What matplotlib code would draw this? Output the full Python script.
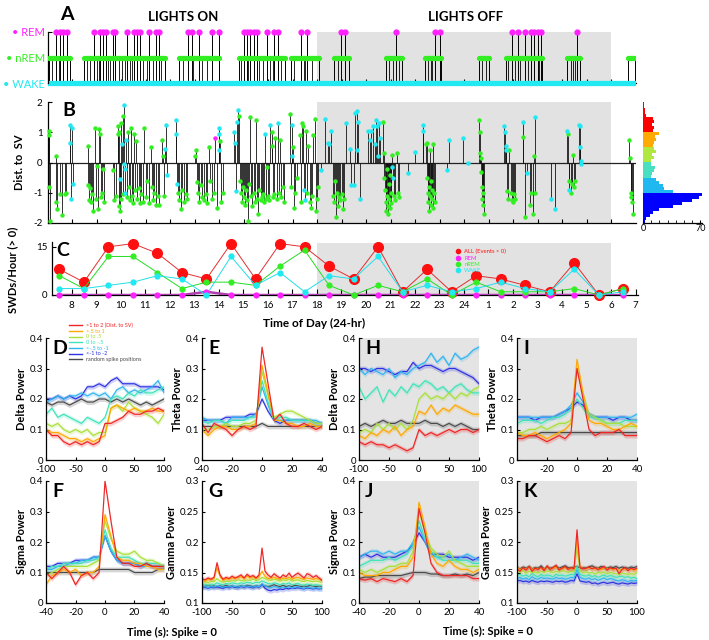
import numpy as np
import matplotlib.pyplot as plt
from matplotlib.lines import Line2D

plt.rcParams['font.family'] = ['Lato', 'DejaVu Sans']
plt.rcParams['axes.linewidth'] = 0.9
plt.rcParams['xtick.direction'] = 'in'
plt.rcParams['ytick.direction'] = 'in'
plt.rcParams['xtick.labelsize'] = 7
plt.rcParams['ytick.labelsize'] = 7
plt.rcParams['xtick.major.size'] = 3
plt.rcParams['ytick.major.size'] = 3

# ---------------- data: A (sleep state over time) ----------------
a_nrem_start = [7.05, 8.5, 12.35, 14.8, 16.95, 18.7, 20.8, 22.4, 24.6, 25.7, 28.2, 30.7]
a_nrem_end = [7.9, 11.8, 14.0, 16.7, 18.1, 19.3, 21.45, 23.05, 25.0, 27.2, 28.75, 30.98]
a_rem = [7.36, 7.5, 7.64, 7.8, 8.88, 9.15, 9.28, 9.39, 9.66, 9.77, 10.23, 10.54, 10.65,
         10.77, 11.15, 11.42, 11.55, 12.74, 12.88, 13.18, 13.72, 14.0, 15.0, 15.14, 15.27,
         15.41, 15.54, 15.97, 16.26, 16.42, 17.34, 17.61, 18.99, 19.15, 21.24, 22.83, 23.0,
         25.95, 26.22, 26.49, 26.73, 26.87, 27.0, 27.14, 28.62]
a_brief_wake = [7.2, 7.45, 8.6, 8.75, 9.0, 9.1, 9.45, 9.55, 9.9, 10.05, 10.15, 10.35, 10.45,
                10.9, 11.05, 11.3, 11.65, 12.55, 12.95, 13.3, 13.5, 14.9, 15.2, 15.65, 15.8,
                16.1, 16.2, 16.55, 17.05, 17.45, 17.5, 17.8, 18.85, 20.95, 21.1, 21.35, 22.55,
                22.65, 22.7, 24.75, 24.9, 25.8, 26.1, 26.3, 26.6, 27.05, 28.35, 28.45, 28.55]

# ---------------- data: B (distance to SV per event) ----------------
b_nrem_t = [7.05, 7.07, 7.08, 7.1, 7.34, 7.36, 7.4, 7.5, 7.6, 7.7, 7.77,
            8.65, 8.67, 8.7, 8.74, 8.78, 8.82, 8.86, 8.92, 8.96, 9.01, 9.05, 9.12, 9.15, 9.18, 9.22, 9.28, 9.32,
            9.66, 9.7, 9.8, 9.86, 9.88, 9.9, 9.93, 9.97, 10.0, 10.02, 10.07, 10.1, 10.23, 10.27, 10.31, 10.36, 10.41, 10.45, 10.5,
            10.54, 10.58, 10.61, 10.65, 10.72, 10.77, 10.81, 10.88, 10.95, 11.0, 11.08, 11.15, 11.22, 11.26, 11.3, 11.35, 11.42, 11.49, 11.55, 11.69, 11.72, 11.75,
            12.34, 12.38, 12.43, 12.5, 12.57, 12.65, 12.7,
            13.04, 13.08, 13.1, 13.14, 13.18, 13.25, 13.31, 13.38, 13.45, 13.52, 13.58, 13.62, 13.72, 13.8, 13.9, 14.06, 14.1, 14.15,
            14.8, 14.84, 14.88, 14.93, 14.97, 15.02, 15.07, 15.1, 15.14, 15.2, 15.24, 15.27, 15.31, 15.35, 15.41, 15.45, 15.5, 15.54, 15.6, 15.65,
            15.7, 15.74, 15.8, 15.85, 15.92, 15.97, 16.0, 16.05, 16.15, 16.18, 16.22, 16.26, 16.3, 16.35, 16.45, 16.5, 16.55, 16.6, 16.65,
            16.91, 16.93, 17.02, 17.05, 17.09, 17.2, 17.3, 17.34, 17.4, 17.43, 17.57, 17.6, 17.65, 17.7, 17.75, 17.8, 17.84, 17.91, 17.95, 18.0, 18.04,
            18.65, 18.7, 18.74, 18.78, 18.82, 18.86, 18.9, 18.95, 19.0, 19.05, 19.1,
            20.7, 20.72, 20.75, 20.78, 20.8, 20.82, 20.84, 20.86, 20.88, 20.9, 20.92, 20.94, 20.96, 20.98, 21.0, 21.02, 21.05, 21.15, 21.2, 21.25, 21.3, 21.35,
            22.45, 22.47, 22.5, 22.52, 22.54, 22.56, 22.58, 22.6, 22.62, 22.64, 22.66, 22.68, 22.7, 22.72, 22.75, 22.78, 22.82,
            24.62, 24.64, 24.66, 24.68, 24.7, 24.72, 24.74, 24.76, 24.78, 24.8,
            25.75, 25.8, 25.85, 25.9, 25.95, 26.0, 26.05, 26.1, 26.42, 26.5, 26.7, 26.75, 26.8, 26.85, 26.88,
            28.24, 28.27, 28.35, 28.4, 28.45, 28.5, 28.55,
            30.75, 30.78, 30.8, 30.83, 30.86, 30.88]
b_nrem_d = [1.05, 0.9, -0.8, -1.95, 0.2, -1.3, -1.55, -1.05, -1.75, -1.05, -1.0,
            0.55, -0.75, -1.25, -0.85, -1.3, -1.05, -1.6, 1.15, -1.2, -0.1, -1.55, 1.1, 0.95, -1.15, -1.0, -0.2, -1.3,
            -0.25, -1.25, -1.1, 0.95, 1.2, -1.45, 1.0, -1.6, 1.3, -1.2, -1.05, 1.55, -1.15, 1.0, -0.8, -1.25, 1.15, -1.1, -1.35,
            0.95, -0.9, 0.7, -1.2, -0.85, -1.35, -1.05, -1.3, 1.15, -1.15, -0.6, -1.35, 0.5, -0.8, -1.25, -1.0, -1.4, -1.1, -1.4, 0.75, 0.2, -1.1,
            -1.0, -1.25, -1.55, -0.9, -1.3, -1.05, -1.2,
            0.2, 0.4, -0.65, -1.0, -1.3, -0.75, -1.15, -1.25, -1.05, -1.35, 0.5, -0.6, -1.2, -1.0, -1.5, 0.7, -1.3, -1.0,
            1.55, -0.6, -1.0, -1.3, -0.8, -1.15, -1.4, -0.9, -1.25, -1.95, -0.7, 1.5, -1.1, -1.45, -1.0, -1.3, 1.4, -1.2, -1.7, -0.9,
            -1.25, -1.15, -1.05, -1.3, -1.2, -0.15, -1.1, -1.25, 1.0, 0.55, -1.15, -1.05, 0.8, -1.2, -1.0, 0.75, -1.15, -0.8, -1.3,
            1.6, -0.8, 0.5, -1.5, -1.0, -0.5, 0.9, -1.3, 1.3, 1.2, 1.05, -1.0, 0.55, -1.3, -1.5, -1.1, 0.9, 1.45, -1.6, -1.2, -0.8,
            -1.1, -1.3, -0.6, -1.8, -1.0, -1.45, -1.15, -1.25, -1.05, -1.55, -1.2,
            1.35, 0.3, -0.5, -0.9, -1.3, -1.6, -1.1, -0.2, -1.45, -1.7, -0.7, -1.2, -1.5, -0.4, -1.0, -1.35, 0.25, -1.1, -1.25, 0.3, -1.0, -1.15,
            0.6, 0.65, -0.5, -1.0, -1.3, -0.8, -1.6, 0.4, -1.1, -0.6, -1.4, -0.9, -1.2, -1.5, 0.6, -1.0, -1.3,
            1.4, 1.0, 0.3, 0.15, -0.3, -0.8, -1.2, -1.0, -1.4, -1.7,
            -0.95, -1.2, 0.4, -1.0, -1.25, -1.3, -1.05, -1.2, 0.85, -1.8, -1.4, -1.0, -1.7, 0.2, -1.0,
            0.95, -0.6, -1.0, -0.7, 0.25, -0.8, -0.6,
            0.75, 0.15, -1.0, -1.15, -1.3, -1.7]
b_wake_t = [7.9, 7.92, 7.95, 8.02, 8.05, 9.95, 10.05, 10.12, 10.14, 10.16, 10.18, 10.2,
            11.8, 11.85, 11.89, 12.23, 12.26, 12.3, 13.99, 14.0, 14.02,
            14.62, 14.65, 14.68, 14.73, 14.76, 15.88, 16.1, 16.4, 16.96, 16.99, 17.47, 17.5,
            18.18, 18.31, 18.45, 18.51, 18.58, 19.19, 19.35, 19.4, 19.49, 19.56, 19.62, 19.65, 19.69, 19.76,
            20.1, 20.15, 20.2, 20.3, 20.35, 20.4, 20.45, 20.5, 20.55, 20.58,
            21.08, 21.12, 21.71, 22.02, 22.32, 22.34, 23.29, 23.4, 23.96, 24.18,
            25.65, 25.67, 25.7, 25.72, 26.4, 26.58, 26.9, 27.57, 27.73,
            28.22, 28.3, 28.7, 28.72, 28.74, 28.76, 28.78]
b_wake_d = [1.25, 0.65, -1.2, 1.15, -0.7, -0.55, 0.6, 1.9, -0.05, -0.2, -1.0, 0.75,
            0.45, 1.25, -0.4, 0.95, 1.4, -0.7, 1.15, 0.95, 0.4,
            1.0, 0.65, -0.95, 1.35, 1.75, 0.95, 1.25, 1.3, 1.25, 0.2, -0.9, -1.25,
            -0.25, 1.45, 0.65, 0.6, 1.05, 1.3, 0.45, -0.75, -0.75, 1.65, 1.7, 0.4, 1.35, -1.2,
            1.05, 0.75, 1.05, 1.2, 0.6, 1.4, 1.2, 0.2, 1.3, 0.8,
            -0.15, -0.5, -0.35, 0.35, 1.25, 1.05, -0.25, 0.75, 0.8, 0.0,
            1.2, 1.0, 0.55, 0.4, 1.35, -0.35, 1.5, -1.2, -1.55,
            1.05, -0.9, 1.25, 1.2, 0.5, 0.05, -0.05]
b_rem_t = [13.85]
b_rem_d = [0.8]

# histogram of distances, bins of 0.1 from -2 (bottom) to 2 (top)
hist_counts = [2, 4, 8, 12, 20, 36, 48, 60, 68, 72,
               36, 26, 24, 20, 16,
               10, 11, 13, 15, 10,
               10, 13, 11, 16, 14,
               12, 14, 16, 15, 20,
               12, 14, 11, 14, 12, 4, 2, 2, 1, 1]

# ---------------- data: C (events per hour) ----------------
c_labels = ['8', '9', '10', '11', '12', '13', '14', '15', '16', '17', '18', '19', '20',
            '21', '22', '23', '24', '1', '2', '3', '4', '5', '6', '7']
c_all = [8, 4, 15, 16, 13, 7, 5, 16, 5, 16, 15, 9, 5, 15, 1, 8, 1, 6, 5, 3, 1, 10, 0, 2]
c_nrem = [6, 2, 12, 12, 7, 2, 4, 4, 3, 9, 14, 3, 0, 3, 1, 5, 0, 4, 1, 1, 1, 2, 0, 2]
c_wake = [2, 2, 3, 4, 6, 5, 0, 12, 3, 7, 1, 6, 5, 12, 1, 3, 1, 2, 4, 2, 1, 8, 0, 1]
c_rem = [0, 0, 0, 0, 0, 0, 1, 0, 0, 0, 0, 0, 0, 0, 0, 0, 0, 0, 0, 0, 0, 0, 0, 0]

# ---------------- data: D-K (power around spikes) ----------------
# series order: >1 to 2, >.5 to 1, 0 to .5, 0 to -.5, <-.5 to -1, <-1 to -2, random
series_names = ['>1 to 2 (Dist. to SV)', '>.5 to 1', '0 to .5', '0 to -.5',
                '<-.5 to -1', '<-1 to -2', 'random spike positions']
series_colors = ['#f02424', '#ffa800', '#a8e03a', '#3ee3b8', '#30b4f0', '#2e32e0', '#4a4a4a']

delta_on = [
    [0.10, 0.08, 0.08, 0.06, 0.05, 0.06, 0.05, 0.06, 0.05, 0.06, 0.12, 0.12, 0.13, 0.14, 0.16, 0.15, 0.15, 0.16, 0.16, 0.17, 0.16],
    [0.10, 0.09, 0.09, 0.08, 0.07, 0.07, 0.06, 0.07, 0.06, 0.07, 0.08, 0.17, 0.18, 0.17, 0.16, 0.17, 0.16, 0.16, 0.17, 0.16, 0.16],
    [0.12, 0.11, 0.12, 0.10, 0.09, 0.10, 0.09, 0.10, 0.08, 0.09, 0.09, 0.17, 0.18, 0.16, 0.19, 0.17, 0.16, 0.15, 0.14, 0.12, 0.15],
    [0.15, 0.17, 0.14, 0.15, 0.14, 0.13, 0.12, 0.14, 0.13, 0.12, 0.14, 0.20, 0.21, 0.20, 0.22, 0.21, 0.23, 0.22, 0.22, 0.23, 0.24],
    [0.19, 0.20, 0.21, 0.20, 0.21, 0.21, 0.22, 0.21, 0.22, 0.21, 0.22, 0.20, 0.23, 0.24, 0.22, 0.23, 0.22, 0.23, 0.24, 0.26, 0.22],
    [0.20, 0.20, 0.21, 0.20, 0.21, 0.20, 0.21, 0.24, 0.24, 0.25, 0.24, 0.26, 0.27, 0.25, 0.25, 0.25, 0.24, 0.24, 0.24, 0.24, 0.23],
    [0.19, 0.18, 0.19, 0.19, 0.18, 0.19, 0.20, 0.19, 0.19, 0.20, 0.20, 0.19, 0.20, 0.19, 0.20, 0.19, 0.18, 0.19, 0.18, 0.19, 0.20],
]
theta_on = [
    [0.12, 0.09, 0.12, 0.11, 0.10, 0.08, 0.10, 0.11, 0.10, 0.11, 0.37, 0.25, 0.13, 0.15, 0.12, 0.11, 0.11, 0.12, 0.11, 0.10, 0.11],
    [0.10, 0.08, 0.10, 0.11, 0.11, 0.10, 0.10, 0.11, 0.11, 0.12, 0.31, 0.22, 0.13, 0.13, 0.12, 0.12, 0.11, 0.11, 0.12, 0.11, 0.11],
    [0.10, 0.10, 0.11, 0.11, 0.12, 0.11, 0.11, 0.12, 0.12, 0.13, 0.29, 0.21, 0.14, 0.15, 0.16, 0.16, 0.15, 0.14, 0.13, 0.12, 0.12],
    [0.13, 0.12, 0.13, 0.13, 0.12, 0.13, 0.13, 0.13, 0.14, 0.14, 0.26, 0.19, 0.13, 0.14, 0.14, 0.13, 0.13, 0.13, 0.13, 0.12, 0.12],
    [0.14, 0.13, 0.13, 0.13, 0.12, 0.14, 0.14, 0.14, 0.14, 0.15, 0.24, 0.18, 0.13, 0.13, 0.13, 0.13, 0.13, 0.13, 0.13, 0.13, 0.12],
    [0.13, 0.13, 0.13, 0.13, 0.14, 0.14, 0.14, 0.14, 0.15, 0.15, 0.20, 0.16, 0.13, 0.12, 0.13, 0.13, 0.13, 0.13, 0.13, 0.12, 0.12],
    [0.11, 0.11, 0.11, 0.11, 0.11, 0.11, 0.11, 0.11, 0.11, 0.11, 0.12, 0.11, 0.11, 0.11, 0.11, 0.11, 0.11, 0.11, 0.11, 0.11, 0.11],
]
delta_off = [
    [0.06, 0.05, 0.06, 0.05, 0.05, 0.04, 0.05, 0.04, 0.03, 0.04, 0.10, 0.08, 0.09, 0.08, 0.09, 0.10, 0.09, 0.10, 0.10, 0.09, 0.10],
    [0.08, 0.07, 0.09, 0.08, 0.10, 0.09, 0.11, 0.08, 0.10, 0.11, 0.16, 0.15, 0.18, 0.15, 0.17, 0.16, 0.18, 0.17, 0.16, 0.15, 0.15],
    [0.09, 0.10, 0.09, 0.12, 0.10, 0.12, 0.10, 0.12, 0.10, 0.13, 0.20, 0.22, 0.20, 0.21, 0.20, 0.22, 0.20, 0.22, 0.21, 0.23, 0.24],
    [0.24, 0.20, 0.22, 0.24, 0.19, 0.23, 0.21, 0.24, 0.22, 0.25, 0.24, 0.26, 0.25, 0.23, 0.24, 0.22, 0.24, 0.25, 0.23, 0.22, 0.22],
    [0.30, 0.28, 0.30, 0.29, 0.28, 0.30, 0.27, 0.29, 0.28, 0.30, 0.31, 0.32, 0.35, 0.32, 0.34, 0.31, 0.35, 0.33, 0.34, 0.36, 0.37],
    [0.30, 0.30, 0.29, 0.30, 0.30, 0.29, 0.28, 0.29, 0.29, 0.32, 0.30, 0.31, 0.31, 0.30, 0.29, 0.30, 0.30, 0.29, 0.28, 0.27, 0.25],
    [0.11, 0.12, 0.11, 0.12, 0.13, 0.12, 0.12, 0.13, 0.12, 0.12, 0.12, 0.13, 0.12, 0.12, 0.11, 0.12, 0.11, 0.12, 0.11, 0.10, 0.10],
]
theta_off = [
    [0.07, 0.07, 0.08, 0.08, 0.07, 0.06, 0.07, 0.08, 0.07, 0.09, 0.30, 0.20, 0.10, 0.08, 0.09, 0.09, 0.09, 0.10, 0.08, 0.08, 0.08],
    [0.09, 0.08, 0.08, 0.09, 0.08, 0.07, 0.08, 0.09, 0.10, 0.12, 0.33, 0.22, 0.13, 0.12, 0.12, 0.11, 0.10, 0.10, 0.11, 0.12, 0.11],
    [0.09, 0.09, 0.10, 0.10, 0.11, 0.10, 0.11, 0.12, 0.12, 0.13, 0.30, 0.22, 0.15, 0.14, 0.13, 0.12, 0.12, 0.12, 0.11, 0.11, 0.11],
    [0.12, 0.13, 0.13, 0.13, 0.12, 0.13, 0.14, 0.14, 0.15, 0.17, 0.20, 0.17, 0.14, 0.14, 0.13, 0.12, 0.12, 0.12, 0.13, 0.13, 0.13],
    [0.14, 0.14, 0.14, 0.14, 0.14, 0.14, 0.14, 0.15, 0.16, 0.18, 0.22, 0.19, 0.15, 0.14, 0.14, 0.14, 0.14, 0.14, 0.14, 0.14, 0.15],
    [0.14, 0.14, 0.14, 0.13, 0.14, 0.14, 0.14, 0.15, 0.16, 0.17, 0.19, 0.18, 0.15, 0.14, 0.14, 0.14, 0.13, 0.14, 0.14, 0.13, 0.13],
    [0.08, 0.08, 0.08, 0.08, 0.09, 0.09, 0.09, 0.09, 0.09, 0.09, 0.09, 0.09, 0.09, 0.09, 0.09, 0.09, 0.09, 0.09, 0.09, 0.09, 0.09],
]
sigma_on = [
    [0.10, 0.08, 0.10, 0.12, 0.10, 0.06, 0.09, 0.10, 0.08, 0.10, 0.40, 0.27, 0.15, 0.13, 0.13, 0.12, 0.12, 0.13, 0.12, 0.12, 0.12],
    [0.06, 0.09, 0.10, 0.11, 0.10, 0.11, 0.09, 0.10, 0.10, 0.12, 0.29, 0.22, 0.15, 0.14, 0.14, 0.13, 0.13, 0.12, 0.12, 0.11, 0.11],
    [0.09, 0.10, 0.11, 0.12, 0.12, 0.12, 0.12, 0.12, 0.13, 0.14, 0.27, 0.21, 0.17, 0.16, 0.16, 0.17, 0.15, 0.14, 0.14, 0.13, 0.12],
    [0.11, 0.12, 0.12, 0.13, 0.13, 0.13, 0.13, 0.14, 0.14, 0.15, 0.24, 0.18, 0.15, 0.15, 0.15, 0.14, 0.13, 0.13, 0.13, 0.13, 0.12],
    [0.11, 0.11, 0.12, 0.12, 0.13, 0.13, 0.14, 0.14, 0.15, 0.15, 0.22, 0.17, 0.14, 0.13, 0.13, 0.13, 0.12, 0.12, 0.12, 0.12, 0.12],
    [0.12, 0.12, 0.13, 0.13, 0.13, 0.14, 0.14, 0.14, 0.15, 0.15, 0.22, 0.17, 0.14, 0.13, 0.13, 0.13, 0.12, 0.13, 0.12, 0.12, 0.12],
    [0.10, 0.10, 0.10, 0.10, 0.10, 0.10, 0.10, 0.10, 0.10, 0.11, 0.11, 0.11, 0.11, 0.11, 0.11, 0.10, 0.10, 0.10, 0.10, 0.11, 0.11],
]
gamma_on = [
    [0.140, 0.138, 0.141, 0.139, 0.142, 0.166, 0.146, 0.139, 0.142, 0.140, 0.144, 0.141, 0.143, 0.146, 0.141, 0.147, 0.143, 0.145, 0.141, 0.146, 0.190,
     0.152, 0.146, 0.142, 0.148, 0.144, 0.141, 0.146, 0.143, 0.149, 0.142, 0.146, 0.149, 0.145, 0.141, 0.148, 0.146, 0.142, 0.145, 0.141, 0.137],
    [0.137, 0.136, 0.139, 0.138, 0.140, 0.158, 0.143, 0.137, 0.140, 0.139, 0.141, 0.140, 0.142, 0.143, 0.140, 0.144, 0.141, 0.143, 0.140, 0.143, 0.152,
     0.144, 0.140, 0.141, 0.142, 0.140, 0.139, 0.141, 0.140, 0.142, 0.139, 0.141, 0.142, 0.140, 0.139, 0.141, 0.140, 0.139, 0.140, 0.139, 0.138],
    [0.134, 0.135, 0.133, 0.136, 0.135, 0.140, 0.136, 0.134, 0.136, 0.135, 0.137, 0.136, 0.138, 0.137, 0.136, 0.138, 0.137, 0.139, 0.137, 0.138, 0.142,
     0.140, 0.138, 0.137, 0.139, 0.138, 0.136, 0.138, 0.137, 0.139, 0.136, 0.137, 0.138, 0.136, 0.135, 0.137, 0.136, 0.135, 0.136, 0.135, 0.134],
    [0.130, 0.131, 0.129, 0.131, 0.130, 0.133, 0.131, 0.130, 0.132, 0.131, 0.133, 0.132, 0.131, 0.133, 0.132, 0.134, 0.133, 0.132, 0.134, 0.133, 0.136,
     0.134, 0.132, 0.131, 0.133, 0.132, 0.130, 0.132, 0.131, 0.133, 0.130, 0.131, 0.132, 0.130, 0.129, 0.131, 0.130, 0.129, 0.130, 0.129, 0.128],
    [0.126, 0.127, 0.125, 0.127, 0.126, 0.128, 0.127, 0.126, 0.127, 0.126, 0.128, 0.127, 0.126, 0.128, 0.127, 0.128, 0.127, 0.126, 0.128, 0.127, 0.130,
     0.128, 0.126, 0.125, 0.127, 0.126, 0.125, 0.126, 0.125, 0.127, 0.125, 0.126, 0.127, 0.125, 0.124, 0.126, 0.125, 0.124, 0.125, 0.124, 0.123],
    [0.125, 0.126, 0.124, 0.126, 0.125, 0.127, 0.125, 0.124, 0.126, 0.125, 0.127, 0.126, 0.125, 0.127, 0.126, 0.127, 0.126, 0.125, 0.127, 0.126, 0.131,
     0.124, 0.121, 0.120, 0.122, 0.121, 0.123, 0.122, 0.124, 0.123, 0.125, 0.124, 0.125, 0.124, 0.123, 0.125, 0.124, 0.123, 0.124, 0.123, 0.124],
    [0.128, 0.127, 0.129, 0.127, 0.128, 0.126, 0.128, 0.127, 0.129, 0.127, 0.128, 0.126, 0.127, 0.128, 0.127, 0.129, 0.128, 0.127, 0.128, 0.127, 0.129,
     0.128, 0.127, 0.128, 0.130, 0.128, 0.127, 0.129, 0.127, 0.128, 0.127, 0.129, 0.128, 0.127, 0.128, 0.127, 0.129, 0.128, 0.127, 0.128, 0.127],
]
sigma_off = [
    [0.08, 0.075, 0.08, 0.07, 0.08, 0.075, 0.07, 0.08, 0.07, 0.09, 0.31, 0.23, 0.13, 0.10, 0.09, 0.09, 0.09, 0.09, 0.09, 0.08, 0.08],
    [0.10, 0.09, 0.09, 0.09, 0.10, 0.10, 0.11, 0.12, 0.12, 0.15, 0.33, 0.25, 0.16, 0.13, 0.12, 0.14, 0.12, 0.11, 0.11, 0.10, 0.11],
    [0.11, 0.10, 0.11, 0.10, 0.11, 0.12, 0.12, 0.13, 0.13, 0.17, 0.30, 0.23, 0.18, 0.16, 0.15, 0.17, 0.14, 0.13, 0.12, 0.12, 0.12],
    [0.12, 0.13, 0.14, 0.14, 0.14, 0.15, 0.14, 0.15, 0.16, 0.19, 0.27, 0.21, 0.17, 0.15, 0.14, 0.14, 0.14, 0.14, 0.14, 0.13, 0.13],
    [0.15, 0.16, 0.17, 0.17, 0.16, 0.17, 0.16, 0.17, 0.17, 0.20, 0.25, 0.20, 0.16, 0.15, 0.15, 0.16, 0.14, 0.15, 0.16, 0.15, 0.14],
    [0.15, 0.16, 0.15, 0.16, 0.15, 0.15, 0.15, 0.16, 0.17, 0.19, 0.23, 0.20, 0.16, 0.16, 0.16, 0.15, 0.15, 0.15, 0.15, 0.14, 0.15],
    [0.08, 0.085, 0.085, 0.09, 0.09, 0.09, 0.09, 0.09, 0.095, 0.10, 0.10, 0.10, 0.095, 0.095, 0.09, 0.09, 0.095, 0.09, 0.095, 0.09, 0.10],
]
gamma_off = [
    [0.156, 0.152, 0.158, 0.154, 0.160, 0.152, 0.157, 0.155, 0.159, 0.153, 0.161, 0.155, 0.158, 0.162, 0.154, 0.157, 0.160, 0.155, 0.158, 0.156, 0.220,
     0.158, 0.156, 0.157, 0.159, 0.156, 0.158, 0.155, 0.157, 0.160, 0.154, 0.158, 0.156, 0.157, 0.148, 0.155, 0.158, 0.153, 0.157, 0.155, 0.157],
    [0.158, 0.155, 0.157, 0.156, 0.159, 0.155, 0.157, 0.156, 0.158, 0.155, 0.160, 0.156, 0.157, 0.159, 0.155, 0.157, 0.158, 0.156, 0.157, 0.156, 0.205,
     0.158, 0.157, 0.156, 0.158, 0.157, 0.156, 0.157, 0.155, 0.158, 0.156, 0.157, 0.155, 0.156, 0.154, 0.155, 0.156, 0.154, 0.155, 0.154, 0.155],
    [0.152, 0.150, 0.153, 0.149, 0.152, 0.150, 0.151, 0.149, 0.152, 0.150, 0.153, 0.151, 0.150, 0.152, 0.151, 0.153, 0.152, 0.150, 0.152, 0.151, 0.190,
     0.152, 0.150, 0.151, 0.149, 0.150, 0.148, 0.150, 0.149, 0.151, 0.148, 0.150, 0.149, 0.148, 0.147, 0.149, 0.148, 0.147, 0.148, 0.147, 0.150],
    [0.145, 0.147, 0.144, 0.146, 0.143, 0.148, 0.145, 0.143, 0.147, 0.144, 0.146, 0.145, 0.143, 0.147, 0.145, 0.146, 0.144, 0.145, 0.147, 0.146, 0.160,
     0.147, 0.145, 0.144, 0.146, 0.143, 0.145, 0.142, 0.144, 0.146, 0.143, 0.145, 0.144, 0.142, 0.143, 0.144, 0.142, 0.143, 0.141, 0.142, 0.140],
    [0.140, 0.142, 0.139, 0.141, 0.138, 0.143, 0.140, 0.139, 0.142, 0.140, 0.141, 0.140, 0.139, 0.142, 0.140, 0.141, 0.139, 0.140, 0.142, 0.141, 0.155,
     0.142, 0.140, 0.139, 0.141, 0.138, 0.140, 0.137, 0.139, 0.141, 0.138, 0.140, 0.139, 0.137, 0.136, 0.138, 0.137, 0.135, 0.137, 0.136, 0.137],
    [0.136, 0.137, 0.135, 0.136, 0.134, 0.137, 0.135, 0.134, 0.136, 0.135, 0.136, 0.135, 0.134, 0.136, 0.135, 0.136, 0.134, 0.135, 0.137, 0.136, 0.148,
     0.136, 0.135, 0.134, 0.135, 0.132, 0.133, 0.131, 0.133, 0.134, 0.132, 0.133, 0.134, 0.132, 0.131, 0.133, 0.132, 0.131, 0.133, 0.132, 0.133],
    [0.158, 0.156, 0.159, 0.157, 0.160, 0.156, 0.158, 0.157, 0.161, 0.156, 0.159, 0.157, 0.158, 0.160, 0.157, 0.159, 0.161, 0.158, 0.157, 0.159, 0.160,
     0.157, 0.158, 0.157, 0.159, 0.161, 0.158, 0.157, 0.160, 0.158, 0.157, 0.159, 0.158, 0.160, 0.157, 0.159, 0.158, 0.157, 0.159, 0.158, 0.160],
]

# ---------------- figure ----------------
W, H = 709, 640
fig = plt.figure(figsize=(W / 100, H / 100), dpi=100)

C_WAKE = '#22e8f2'
C_NREM = '#33ee22'
C_REM = '#ff22ff'
SHADE = '#e2e2e2'


def box(x0, y0, x1, y1):
    return [x0 / W, 1 - y1 / H, (x1 - x0) / W, (y1 - y0) / H]


def clean(ax):
    ax.spines['top'].set_visible(False)
    ax.spines['right'].set_visible(False)


hours = list(range(8, 32))

# ---- A ----
axA = fig.add_axes(box(47.5, 28, 635.5, 87))
axA.set_xlim(7, 31)
axA.set_ylim(-0.15, 2.15)
axA.fill_between([18, 30], 0, 2, color=SHADE, lw=0, zorder=0)
axA.vlines(a_nrem_start + a_nrem_end, 0, 1, color='k', lw=0.7, zorder=1)
axA.vlines(a_brief_wake, 0, 1, color='k', lw=0.6, zorder=1)
axA.vlines(a_rem, 0, 2, color='k', lw=0.7, zorder=1)
axA.plot([7.0, 30.95], [0, 0], color=C_WAKE, lw=3.8, zorder=2)
for s, e in zip(a_nrem_start, a_nrem_end):
    axA.plot([s, e], [1, 1], color=C_NREM, lw=3.8, solid_capstyle='round', zorder=3)
axA.plot(a_rem, [2] * len(a_rem), 'o', color=C_REM, ms=3.5, zorder=4)
clean(axA)
axA.spines['left'].set_bounds(0, 2)
axA.spines['bottom'].set_position(('data', 0))
axA.spines['bottom'].set_zorder(1)
axA.set_xticks(hours[:-1])
axA.set_xticklabels([])
axA.set_yticks([0, 1, 2])
axA.set_yticklabels(['• WAKE', '• nREM', '• REM'], fontsize=8)
for lab, col in zip(axA.get_yticklabels(), [C_WAKE, C_NREM, C_REM]):
    lab.set_color(col)
axA.tick_params(axis='y', length=3, pad=2)
axA.tick_params(axis='x', length=3)
axA.patch.set_alpha(0)

# ---- B ----
axB = fig.add_axes(box(47.5, 102, 635.5, 223))
axB.set_xlim(7, 31)
axB.set_ylim(-2, 2)
axB.fill_between([18, 30], -2, 2, color=SHADE, lw=0, zorder=0)
axB.axhline(0, color='#222222', lw=0.9, zorder=1)
for tt, dd, col in [(b_nrem_t, b_nrem_d, C_NREM), (b_wake_t, b_wake_d, C_WAKE), (b_rem_t, b_rem_d, C_REM)]:
    axB.vlines(tt, 0, dd, color='#111111', lw=0.6, zorder=2)
for tt, dd, col in [(b_nrem_t, b_nrem_d, C_NREM), (b_wake_t, b_wake_d, C_WAKE), (b_rem_t, b_rem_d, C_REM)]:
    axB.plot(tt, dd, 'o', color=col, ms=3.2, mew=0, zorder=3, clip_on=False)
clean(axB)
axB.set_xticks(hours[:-1])
axB.set_xticklabels([])
axB.set_yticks([-2, -1, 0, 1, 2])
axB.set_yticklabels(['-2', '-1', '0', '1', '2'])
axB.set_ylabel('Dist. to  SV', fontsize=8, fontweight='bold', labelpad=6)
axB.text(0.025, 1.0, 'B', transform=axB.transAxes, fontsize=14, fontweight='bold', va='top', ha='left')

# distance histogram
axH = fig.add_axes(box(643, 102, 702, 223))
centers = np.arange(-1.95, 2.0, 0.1)
bin_cols = []
for c in centers:
    if c > 1:
        bin_cols.append('#ff0000')
    elif c > 0.5:
        bin_cols.append('#ffaa00')
    elif c > 0:
        bin_cols.append('#b0e840')
    elif c > -0.5:
        bin_cols.append('#48e0c0')
    elif c > -1:
        bin_cols.append('#20b8f0')
    else:
        bin_cols.append('#0000ff')
axH.barh(centers[:len(hist_counts)], hist_counts, height=0.1, color=bin_cols, lw=0)
axH.set_ylim(-2, 2)
axH.set_xlim(0, 72)
for sp in ['top', 'right', 'left']:
    axH.spines[sp].set_visible(False)
axH.set_yticks([])
axH.set_xticks([0, 70])
axH.set_xticklabels(['0', '70'], fontsize=6.5)
axH.set_xticks(range(10, 70, 10), minor=True)
axH.tick_params(axis='x', which='both', length=2.5, pad=1)

# ---- C ----
axC = fig.add_axes(box(52, 242, 638, 295))
axC.set_xlim(7.2, 31.1)
axC.set_ylim(0, 16.5)
axC.fill_between([18, 30], 0, 16.3, color=SHADE, lw=0, zorder=0)
pts = np.array(hours) - 0.5
axC.plot(pts, c_all, '-', color='#e03030', lw=0.7, zorder=2)
axC.plot(pts, c_all, 'o', color='#ff1010', ms=7, zorder=3, clip_on=False)
axC.plot(pts, c_rem, '-', color='#b040b0', lw=1.8, zorder=4)
axC.plot(pts, c_nrem, '-', color='#22dd22', lw=0.7, zorder=4)
axC.plot(pts, c_wake, '-', color='#22dde8', lw=0.7, zorder=4)
axC.plot(pts, c_rem, 'o', color=C_REM, ms=4.5, mew=0, zorder=5, clip_on=False)
axC.plot(pts, c_nrem, 'o', color=C_NREM, ms=4.5, mew=0, zorder=6, clip_on=False)
axC.plot(pts, c_wake, 'o', color=C_WAKE, ms=4.5, mew=0, zorder=7, clip_on=False)
clean(axC)
axC.set_xticks(hours)
axC.set_xticklabels(c_labels)
axC.set_yticks([0, 15])
axC.tick_params(axis='x', length=4, pad=4)
axC.text(0.008, 1.0, 'C', transform=axC.transAxes, fontsize=14, fontweight='bold', va='top', ha='left')
leg_h = [Line2D([], [], ls='', marker='o', ms=3, color=c) for c in ['#ff1010', C_REM, C_NREM, C_WAKE]]
legC = axC.legend(leg_h, ['ALL (Events > 0)', 'REM', 'nREM', 'WAKE'], loc='upper left',
                  bbox_to_anchor=(452 / W, 1 - 246 / H), bbox_transform=fig.transFigure,
                  frameon=False, fontsize=4.2, handlelength=1, handletextpad=0.6,
                  labelspacing=0.2, borderpad=0)
for t, c in zip(legC.get_texts(), ['#ff1010', C_REM, C_NREM, C_WAKE]):
    t.set_color(c)

fig.text(13 / W, 1 - 270 / H, 'SWDs/Hour (> 0)', rotation=90, ha='center', va='center',
         fontsize=8, fontweight='bold')
fig.text(263 / W, 1 - 323 / H, 'Time of Day (24-hr)', ha='left', va='center',
         fontsize=8.5, fontweight='bold')
fig.text(183 / W, 1 - 17 / H, 'LIGHTS ON', ha='center', va='center', fontsize=9.5, fontweight='bold')
fig.text(466 / W, 1 - 17 / H, 'LIGHTS OFF', ha='center', va='center', fontsize=9.5, fontweight='bold')
fig.text(60 / W, 1 - 14 / H, 'A', ha='left', va='center', fontsize=14, fontweight='bold')

# ---- D-K ----
y04 = ([0, 0.1, 0.2, 0.3, 0.4], ['0', '0.1', '0.2', '0.3', '0.4'], (0, 0.4))
y13 = ([0.1, 0.15, 0.2, 0.25, 0.3], ['0.1', '0.15', '0.2', '0.25', '0.3'], (0.1, 0.3))
x100 = ([-100, -50, 0, 50, 100], ['-100', '-50', '0', '50', '100'], 100)
x40 = ([-40, -20, 0, 20, 40], ['-40', '-20', '0', '20', '40'], 40)
x40i = ([-40, -20, 0, 20, 40], ['', '-20', '0', '20', '40'], 40)

panels = [
    ('D', (46, 338, 164, 460), delta_on, x100, y04, 'Delta Power', False, 0.008),
    ('E', (202, 338, 322, 460), theta_on, x40, y04, 'Theta Power', False, 0.008),
    ('H', (359, 338, 479, 460), delta_off, x100, y04, 'Delta Power', True, 0.008),
    ('I', (517, 338, 637, 460), theta_off, x40i, y04, 'Theta Power', True, 0.008),
    ('F', (46, 481, 164, 603), sigma_on, x40, y04, 'Sigma Power', False, 0.008),
    ('G', (202, 481, 322, 603), gamma_on, x100, y13, 'Gamma Power', False, 0.004),
    ('J', (359, 481, 479, 603), sigma_off, x40, y04, 'Sigma Power', True, 0.008),
    ('K', (517, 481, 637, 603), gamma_off, x100, y13, 'Gamma Power', True, 0.004),
]

axD = None
for letter, rect, vals, xs, ys, ylab, dark, band in panels:
    ax = fig.add_axes(box(*rect))
    if dark:
        ax.set_facecolor('#e4e4e4')
    order = [6, 5, 4, 3, 2, 1, 0]
    for i in order:
        y = np.array(vals[i])
        x = np.linspace(-xs[2], xs[2], len(y))
        ax.fill_between(x, y - band, y + band, color=series_colors[i], alpha=0.22, lw=0)
        ax.plot(x, y, color=series_colors[i], lw=0.85, label=series_names[i])
    ax.set_xlim(-xs[2], xs[2])
    ax.set_ylim(*ys[2])
    ax.set_xticks(xs[0])
    ax.set_xticklabels(xs[1])
    ax.set_yticks(ys[0])
    ax.set_yticklabels(ys[1])
    ax.tick_params(axis='y', length=2.5, pad=2)
    ax.tick_params(axis='x', length=2.5, pad=3.5)
    ax.set_ylabel(ylab, fontsize=8, fontweight='bold', labelpad=2)
    clean(ax)
    ax.text(0.05, 0.98, letter, transform=ax.transAxes, fontsize=14, fontweight='bold',
            va='top', ha='left')
    if letter == 'D':
        axD = ax

hs = [Line2D([], [], color=series_colors[i], lw=1.0) for i in range(7)]
legD = axD.legend(hs, series_names, loc='upper left', bbox_to_anchor=(66 / W, 1 - 320 / H),
                  bbox_transform=fig.transFigure, frameon=False, fontsize=4.0,
                  handlelength=2.3, handletextpad=0.8, labelspacing=0.12, borderpad=0)
for t, c in zip(legD.get_texts(), series_colors):
    t.set_color(c)

fig.text(172 / W, 1 - 632 / H, 'Time (s): Spike = 0', ha='center', va='center',
         fontsize=8, fontweight='bold')
fig.text(488 / W, 1 - 631 / H, 'Time (s): Spike = 0', ha='center', va='center',
         fontsize=8, fontweight='bold')

fig.savefig('out.png', dpi=100)
